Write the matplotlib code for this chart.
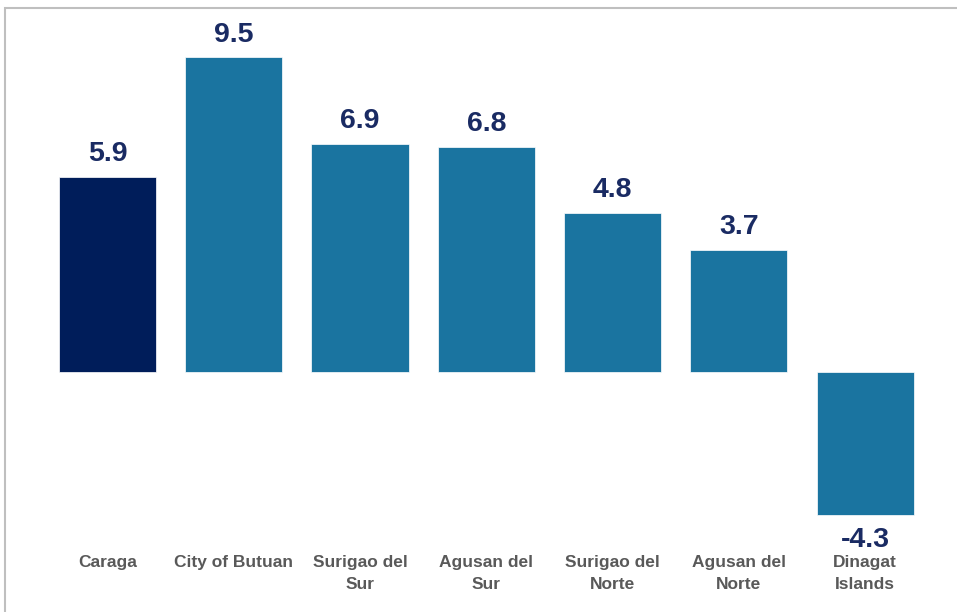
import matplotlib.pyplot as plt
from matplotlib.patches import Rectangle

# growth rates by province
regions = ["Caraga", "City of Butuan", "Surigao del\nSur", "Agusan del\nSur",
           "Surigao del\nNorte", "Agusan del\nNorte", "Dinagat\nIslands"]
growth = [5.9, 9.5, 6.9, 6.8, 4.8, 3.7, -4.3]
bar_colors = ["#001D5A"] + ["#1A74A0"] * 6

plt.rcParams['font.family'] = ['Liberation Sans', 'DejaVu Sans']

fig = plt.figure(figsize=(9.57, 6.12), dpi=100)
# light gray frame around the chart area
fig.patches.append(Rectangle((5 / 957, -0.01), 1.0, (612 - 8) / 612 + 0.01,
                             transform=fig.transFigure, fill=False,
                             edgecolor="#BFBFBF", linewidth=1.5))
ax = fig.add_axes([0.0463, 0.134, 0.9237, 0.833])

x = range(len(regions))
ax.bar(x, growth, width=0.77, color=bar_colors, edgecolor="white", linewidth=0.5)

for i, v in zip(x, growth):
    if v >= 0:
        ax.annotate(f"{v}", (i, v), xytext=(0, 7), textcoords="offset points",
                    ha="center", va="bottom", fontsize=20.5, fontweight="bold",
                    color="#1A2B63")
    else:
        ax.annotate(f"{v}", (i, v), xytext=(0, -9), textcoords="offset points",
                    ha="center", va="top", fontsize=20.5, fontweight="bold",
                    color="#1A2B63")

ax.set_xlim(-0.5, 6.5)
ax.set_ylim(-4.76, 10.62)
ax.set_xticks(list(x))
ax.set_xticklabels(regions, fontsize=12.5, fontweight="bold", color="#595959",
                   linespacing=1.6)
ax.tick_params(axis="x", length=0, pad=18)
ax.set_yticks([])
for s in ax.spines.values():
    s.set_visible(False)

fig.savefig("out.png", dpi=100)
